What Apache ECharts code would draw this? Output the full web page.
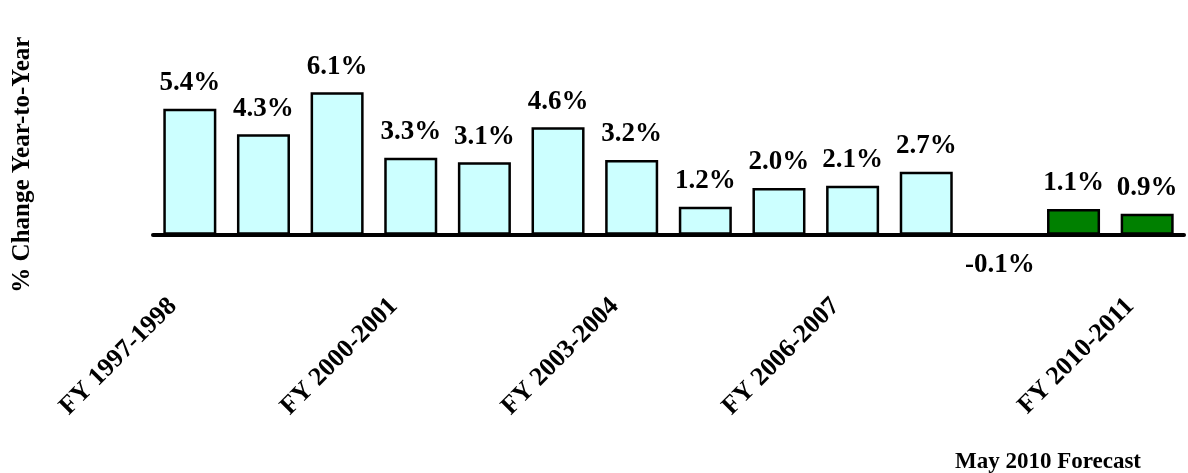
<!DOCTYPE html>
<html>
<head>
<meta charset="utf-8">
<script src="https://cdn.jsdelivr.net/npm/echarts@6/dist/echarts.min.js"></script>
<style>
html,body{margin:0;padding:0;background:#fff;}
#chart{width:1188px;height:473px;}
</style>
</head>
<body>
<div id="chart"></div>
<script>
const categories = ['FY 1997-1998','FY 1998-1999','FY 1999-2000','FY 2000-2001','FY 2001-2002','FY 2002-2003','FY 2003-2004','FY 2004-2005','FY 2005-2006','FY 2006-2007','FY 2007-2008','FY 2008-2009','FY 2009-2010','FY 2010-2011'];
const values = [5.4, 4.3, 6.1, 3.3, 3.1, 4.6, 3.2, 1.2, 2.0, 2.1, 2.7, -0.1, 1.1, 0.9];
const labeledIndices = [0, 3, 6, 9, 13];
const forecastFrom = 12;
const yAxisTitle = '% Change Year-to-Year';
const footnote = 'May 2010 Forecast';

const FONT = '"Liberation Serif", "Times New Roman", serif';
const chart = echarts.init(document.getElementById('chart'), null, {renderer: 'canvas'});

const data = values.map((v, i) => {
  const item = {
    value: v,
    itemStyle: {color: i >= forecastFrom ? '#008000' : '#CCFFFF'}
  };
  if (v < 0) item.label = {position: 'bottom', distance: 14};
  return item;
});

chart.setOption({
  animation: false,
  backgroundColor: '#fff',
  title: {
    text: footnote,
    right: 47,
    bottom: -1,
    padding: 0,
    textStyle: {fontFamily: FONT, fontWeight: 'bold', fontSize: 23, color: '#000'}
  },
  grid: {left: 153, right: 4, top: 48, height: 233.3},
  xAxis: {
    type: 'category',
    data: categories,
    axisLine: {onZero: true, lineStyle: {color: '#000', width: 4}},
    axisTick: {show: false},
    axisLabel: {
      interval: (i) => labeledIndices.includes(i),
      rotate: 45,
      margin: 4,
      padding: [0, 24, 0, 0],
      fontFamily: FONT,
      fontWeight: 'bold',
      fontSize: 26,
      color: '#000'
    }
  },
  yAxis: {
    type: 'value',
    min: -2,
    max: 8,
    interval: 1,
    name: yAxisTitle,
    nameLocation: 'middle',
    nameRotate: 90,
    nameGap: 118,
    nameTextStyle: {fontFamily: FONT, fontWeight: 'bold', fontSize: 25, color: '#000'},
    axisLine: {show: false},
    axisTick: {show: false},
    axisLabel: {show: false},
    splitLine: {show: false}
  },
  series: [{
    type: 'bar',
    data: data,
    barCategoryGap: '28%',
    itemStyle: {borderColor: '#000', borderWidth: 2.5},
    label: {
      show: true,
      position: 'top',
      distance: 12,
      formatter: (p) => p.value.toFixed(1) + '%',
      fontFamily: FONT,
      fontWeight: 'bold',
      fontSize: 27,
      color: '#000'
    }
  }]
});
</script>
</body>
</html>
